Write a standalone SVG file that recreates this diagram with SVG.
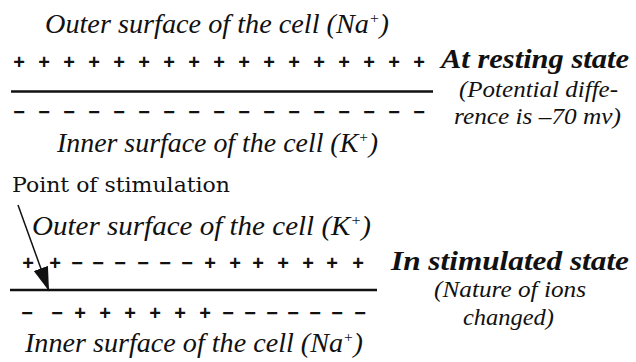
<svg xmlns="http://www.w3.org/2000/svg" width="636" height="362" viewBox="0 0 636 362">
<style>
.it{font-family:"Liberation Serif","Times New Roman",serif;font-style:italic;fill:#111;font-size:27px}
.sm{font-size:23px}
.bi{font-family:"Liberation Serif","Times New Roman",serif;font-style:italic;font-weight:bold;fill:#111;font-size:28px}
.rm{font-family:"DejaVu Serif",serif;fill:#111;font-size:21px}
.ch{font-family:"Liberation Sans",Arial,sans-serif;font-weight:bold;fill:#111;font-size:20px;text-anchor:middle}
.mem{stroke:#111;stroke-width:2.5;fill:none}
.sup{font-size:15px}
</style>
<defs>
<marker id="ah" markerUnits="userSpaceOnUse" markerWidth="26" markerHeight="18" viewBox="0 0 26 18" refX="24" refY="9" orient="auto">
<path d="M0,1.5 L24,9 L0,16.5 Z" fill="#111"/>
</marker>
</defs>
<rect width="636" height="362" fill="#fff"/>

<g id="resting">
<g id="outer-resting"><text class="it" x="45" y="33" textLength="344" lengthAdjust="spacingAndGlyphs">Outer surface of the cell (Na<tspan class="sup" dy="-10">+</tspan><tspan dy="10">)</tspan></text></g>
<g id="resting-plus"><text class="ch" x="19 44 69 94 119 144 169 194 219 244 269 294 319 344 369 394 419" y="69">+++++++++++++++++</text></g>
<line id="membrane-resting" class="mem" x1="11" y1="91.5" x2="433" y2="91.5"/>
<g id="resting-minus"><text class="ch" x="19 44 69 94 119 144 169 194 219 244 269 294 319 344 369 394 419" y="119">−−−−−−−−−−−−−−−−−</text></g>
<g id="inner-resting"><text class="it" x="57" y="152" textLength="321" lengthAdjust="spacingAndGlyphs">Inner surface of the cell (K<tspan class="sup" dy="-10">+</tspan><tspan dy="10">)</tspan></text></g>
<g id="label-resting">
<text class="bi" x="441" y="68" textLength="188" lengthAdjust="spacingAndGlyphs">At resting state</text>
<text class="it sm" x="459" y="97" textLength="159" lengthAdjust="spacingAndGlyphs">(Potential diffe-</text>
<text class="it sm" x="454" y="124" textLength="167" lengthAdjust="spacingAndGlyphs">rence is –70 mv)</text>
</g>
</g>

<g id="stimulated">
<g id="point-label"><text class="rm" x="12" y="192" textLength="218" lengthAdjust="spacingAndGlyphs">Point of stimulation</text></g>
<g id="outer-stim"><text class="it" x="32" y="235" textLength="339" lengthAdjust="spacingAndGlyphs">Outer surface of the cell (K<tspan class="sup" dy="-10">+</tspan><tspan dy="10">)</tspan></text></g>
<g id="stim-top"><text class="ch" x="28 55 77 98 120 143 165 187 210 235 258 283 308 332 358" y="270">++−−−−−−+++++++</text></g>
<line id="membrane-stim" class="mem" x1="10" y1="290" x2="377" y2="290"/>
<g id="stim-bottom"><text class="ch" x="27 57 80 105 130 155 180 205 228 250 272 293 315 337 360" y="320">−−++++++−−−−−−−</text></g>
<g id="inner-stim"><text class="it" x="25" y="352" textLength="338" lengthAdjust="spacingAndGlyphs">Inner surface of the cell (Na<tspan class="sup" dy="-10">+</tspan><tspan dy="10">)</tspan></text></g>
<g id="label-stim">
<text class="bi" x="391" y="270" textLength="238" lengthAdjust="spacingAndGlyphs">In stimulated state</text>
<text class="it sm" x="434" y="297" textLength="152" lengthAdjust="spacingAndGlyphs">(Nature of ions</text>
<text class="it sm" x="463" y="325" textLength="91" lengthAdjust="spacingAndGlyphs">changed)</text>
</g>
</g>

<g id="connectors">
<line x1="18" y1="205" x2="49" y2="291" stroke="#111" stroke-width="1.5" marker-end="url(#ah)"/>
</g>
</svg>
